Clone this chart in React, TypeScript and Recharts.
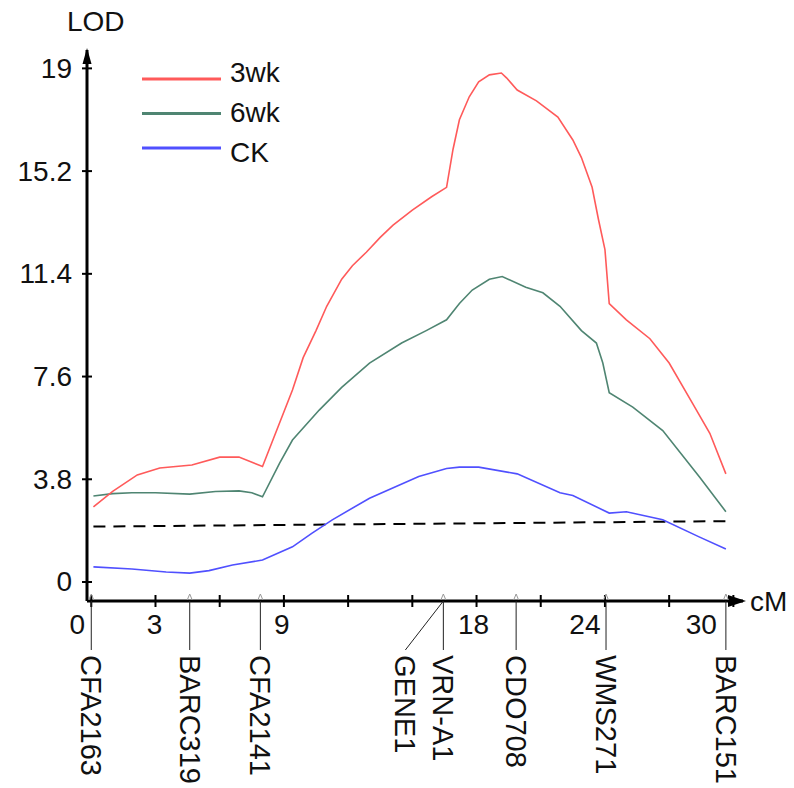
import React from 'react';
import { LineChart, Line, XAxis, YAxis, ReferenceDot, Legend } from 'recharts';

// ---- data ----
const cm3wk = [0.1, 1.0, 2.15, 3.2, 4.7, 6.0, 6.9, 8.0, 9.4, 9.9, 10.5, 11.0, 11.7, 12.2, 12.85, 13.5, 14.1, 15.0, 15.9, 16.6, 16.9, 17.2, 17.66, 18.1, 18.6, 19.16, 19.4, 19.9, 20.8, 21.8, 22.5, 22.9, 23.4, 23.7, 24.0, 24.2, 25.0, 26.1, 27.0, 28.1, 28.9, 29.65];
const lod3wk = [2.78, 3.35, 3.96, 4.22, 4.33, 4.62, 4.62, 4.27, 7.1, 8.3, 9.3, 10.2, 11.2, 11.7, 12.2, 12.75, 13.2, 13.76, 14.25, 14.6, 16.0, 17.1, 17.95, 18.5, 18.76, 18.83, 18.65, 18.2, 17.8, 17.2, 16.35, 15.7, 14.6, 13.4, 12.3, 10.3, 9.7, 9.0, 8.1, 6.6, 5.5, 4.0];

const cm6wk = [0.1, 1.0, 1.9, 3.0, 4.6, 5.8, 6.9, 7.5, 8.0, 8.8, 9.4, 10.65, 11.7, 13.0, 14.5, 15.65, 16.6, 17.2, 17.8, 18.6, 19.2, 20.3, 21.1, 21.9, 22.9, 23.6, 23.9, 24.2, 25.3, 26.7, 28.4, 29.65];
const lod6wk = [3.18, 3.27, 3.3, 3.3, 3.25, 3.35, 3.37, 3.3, 3.15, 4.4, 5.25, 6.36, 7.2, 8.1, 8.84, 9.3, 9.7, 10.3, 10.8, 11.2, 11.3, 10.9, 10.7, 10.2, 9.3, 8.84, 8.1, 7.0, 6.47, 5.6, 3.9, 2.6];

const cmCK = [0.1, 1.9, 3.5, 4.6, 5.5, 6.6, 8.0, 9.4, 10.3, 11.26, 13.0, 15.3, 16.6, 17.2, 18.1, 19.9, 21.9, 22.5, 24.2, 25.0, 26.7, 28.4, 29.65];
const lodCK = [0.56, 0.48, 0.37, 0.33, 0.42, 0.63, 0.81, 1.3, 1.8, 2.3, 3.1, 3.9, 4.2, 4.25, 4.25, 4.0, 3.3, 3.2, 2.55, 2.6, 2.3, 1.67, 1.22];

const thresholdCm = [0.1, 29.65];
const thresholdLod = [2.05, 2.25];

const seriesNames = ['3wk', '6wk', 'CK'];

const xTicks = [0, 3, 6, 9, 12, 15, 18, 21, 24, 27, 30];
const xTickLabels = ['0', '3', '', '9', '', '', '18', '', '24', '', '30'];
const yTicks = [0, 3.8, 7.6, 11.4, 15.2, 19];
const yTickLabels = ['0', '3.8', '7.6', '11.4', '15.2', '19'];

const markerNames = ['CFA2163', 'BARC319', 'CFA2141', 'GENE1', 'VRN-A1', 'CDO708', 'WMS271', 'BARC151'];
const markerCm = [0, 4.6, 7.9, 16.45, 16.45, 19.85, 24.05, 29.65];

const xDomain = [-0.2, 30.45];
const yDomain = [-0.703, 19.68];

// ---- styles ----
const FONT = '"Liberation Sans", Arial, sans-serif';
const COLORS = ['#ff5a5a', '#4f8572', '#5050ff'];
const xLabelShift: Record<string, number> = { '0': -14, '3': -1, '9': -2, '18': -3, '24': -20, '30': -32 };

const toPoints = (xs: number[], ys: number[]) => xs.map((x, i) => ({ cm: x, lod: ys[i] }));
const data3 = toPoints(cm3wk, lod3wk);
const data6 = toPoints(cm6wk, lod6wk);
const dataCK = toPoints(cmCK, lodCK);
const dataThr = toPoints(thresholdCm, thresholdLod);
const markerTicks = Array.from(new Set(markerCm));

const XTick = (props: any) => {
  const { x, y, index } = props;
  const label = xTickLabels[index] ?? '';
  return (
    <g>
      <line x1={x} x2={x} y1={y - 6} y2={y + 6} stroke="#000" strokeWidth={2} />
      {label !== '' && (
        <text x={x + (xLabelShift[label] ?? 0)} y={y + 33} textAnchor="middle" fontSize={28} fontFamily={FONT} fill="#111">
          {label}
        </text>
      )}
    </g>
  );
};

const YTick = (props: any) => {
  const { x, y, index } = props;
  return (
    <g>
      <line x1={x - 5} x2={x + 5} y1={y} y2={y} stroke="#000" strokeWidth={2} />
      <text x={x - 15} y={y} textAnchor="end" dominantBaseline="central" fontSize={28} fontFamily={FONT} fill="#111">
        {yTickLabels[index]}
      </text>
    </g>
  );
};

const MarkerTick = (props: any) => {
  const { x, y, payload } = props;
  const ay = y - 1;
  const names = markerNames.filter((_, i) => markerCm[i] === payload.value);
  const top = ay + 49;
  return (
    <g>
      <polyline points={`${x - 2.5},${ay - 1} ${x},${ay - 7} ${x + 2.5},${ay - 1}`} fill="none" stroke="#999" strokeWidth={1} />
      {names.map((n, i) => {
        const shift = -38 * (names.length - 1 - i);
        const lx = x + shift;
        return (
          <g key={n}>
            <line x1={x} y1={ay} x2={lx} y2={top} stroke="#222" strokeWidth={1} />
            <text
              transform={`translate(${lx}, ${top + 5}) rotate(90)`}
              textAnchor="start"
              dominantBaseline="central"
              fontSize={29}
              fontFamily={FONT}
              fill="#111"
            >
              {n}
            </text>
          </g>
        );
      })}
    </g>
  );
};

const LegendContent = (props: any) => {
  const items = (props.payload || []).filter((p: any) => p.type !== 'none');
  return (
    <svg width={200} height={120} style={{ display: 'block' }}>
      {items.map((p: any, i: number) => (
        <g key={p.value}>
          <line x1={2} x2={81} y1={24 + i * 34.5} y2={24 + i * 34.5} stroke={p.color} strokeWidth={3} />
          <text x={90} y={27 + i * 40} fontSize={28} fontFamily={FONT} fill="#111">
            {p.value}
          </text>
        </g>
      ))}
    </svg>
  );
};

const ArrowUp = (props: any) => {
  const { cx, cy } = props;
  return <polygon points={`${cx},${cy - 2} ${cx - 4.5},${cy + 14} ${cx + 4.5},${cy + 14}`} fill="#000" />;
};
const ArrowRight = (props: any) => {
  const { cx, cy } = props;
  return <polygon points={`${cx + 3},${cy} ${cx - 15},${cy - 6} ${cx - 15},${cy + 6}`} fill="#000" />;
};

export default function App() {
  return (
    <div style={{ position: 'absolute', left: 0, top: 0, width: 794, height: 788, background: '#fff' }}>
      <LineChart width={794} height={788} margin={{ top: 50, right: 51, bottom: 185, left: 86 }}>
        <XAxis
          xAxisId="main"
          type="number"
          dataKey="cm"
          domain={xDomain}
          allowDataOverflow
          ticks={xTicks}
          interval={0}
          height={1}
          tickSize={0}
          tickMargin={0}
          tickLine={false}
          axisLine={{ stroke: '#000', strokeWidth: 3 }}
          tick={<XTick />}
        />
        <XAxis
          xAxisId="marker"
          type="number"
          dataKey="cm"
          domain={xDomain}
          allowDataOverflow
          ticks={markerTicks}
          interval={0}
          height={1}
          tickSize={0}
          tickMargin={0}
          tickLine={false}
          axisLine={false}
          tick={<MarkerTick />}
        />
        <YAxis
          type="number"
          domain={yDomain}
          allowDataOverflow
          ticks={yTicks}
          interval={0}
          width={1}
          tickSize={0}
          tickMargin={0}
          tickLine={false}
          axisLine={{ stroke: '#000', strokeWidth: 3 }}
          tick={<YTick />}
        />
        <Legend
          layout="horizontal"
          verticalAlign="middle"
          align="center"
          wrapperStyle={{ left: 140, top: 55, width: 200, height: 120 }}
          content={<LegendContent />}
        />
        <Line xAxisId="main" data={dataThr} dataKey="lod" name="threshold" legendType="none" type="linear" stroke="#000" strokeWidth={2} strokeDasharray="12 8" dot={false} isAnimationActive={false} />
        <Line xAxisId="main" data={dataCK} dataKey="lod" name={seriesNames[2]} type="linear" stroke={COLORS[2]} strokeWidth={1.6} dot={false} isAnimationActive={false} />
        <Line xAxisId="main" data={data6} dataKey="lod" name={seriesNames[1]} type="linear" stroke={COLORS[1]} strokeWidth={1.6} dot={false} isAnimationActive={false} />
        <Line xAxisId="main" data={data3} dataKey="lod" name={seriesNames[0]} type="linear" stroke={COLORS[0]} strokeWidth={1.6} dot={false} isAnimationActive={false} />
        <ReferenceDot xAxisId="main" x={xDomain[0]} y={yDomain[1]} ifOverflow="visible" shape={<ArrowUp />} />
        <ReferenceDot xAxisId="main" x={xDomain[1]} y={yDomain[0]} ifOverflow="visible" shape={<ArrowRight />} />
      </LineChart>
      <div style={{ position: 'absolute', left: 67, top: 6, fontSize: 28, fontFamily: FONT, color: '#111', lineHeight: '32px' }}>LOD</div>
      <div style={{ position: 'absolute', left: 750, top: 586, fontSize: 28, fontFamily: FONT, color: '#111', lineHeight: '32px' }}>cM</div>
    </div>
  );
}
